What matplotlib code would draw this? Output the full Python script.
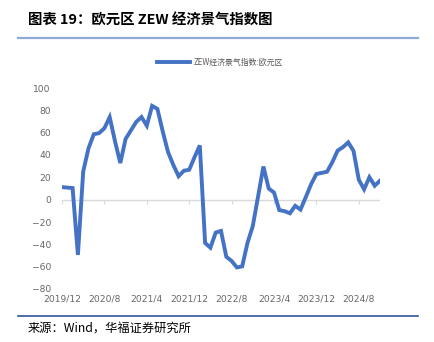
import matplotlib
matplotlib.use("Agg")
import matplotlib.pyplot as plt
from matplotlib.lines import Line2D

plt.rcParams['font.family'] = ['Noto Sans CJK SC', 'DejaVu Sans']

title = "图表 19：欧元区 ZEW 经济景气指数图"
source = "来源：Wind，华福证券研究所"
series_name = "ZEW经济景气指数:欧元区"

# monthly values, 2019/12 .. 2024/12
zew = [11.2,
       10.8, 10.4, -49.5, 25.2, 46.0, 58.6, 59.6, 64.0, 73.9, 52.3, 32.8, 54.4,
       62.0, 69.6, 74.0, 66.3, 84.0, 81.3, 61.2, 42.7, 31.1, 21.0, 25.9, 26.8,
       38.0, 48.6, -38.7, -43.0, -29.5, -28.0, -51.1, -54.9, -60.7, -59.7, -38.7, -23.6,
       3.0, 29.7, 10.0, 6.4, -9.4, -10.3, -12.2, -5.5, -8.9, 2.3, 13.8, 23.0,
       24.0, 25.0, 33.5, 43.9, 47.0, 51.3, 43.7, 17.9, 9.3, 20.1, 12.5, 17.0]
tick_idx = [0, 8, 16, 24, 32, 40, 48, 56]
tick_labels = ["2019/12", "2020/8", "2021/4", "2021/12", "2022/8", "2023/4", "2023/12", "2024/8"]
y_ticks = [100, 80, 60, 40, 20, 0, -20, -40, -60, -80]

W, H = 434, 342
fig = plt.figure(figsize=(W / 100, H / 100), dpi=100)

fig.text(28 / W, 1 - 21 / H, title, fontsize=10.4, fontweight='bold', va='center', ha='left', color='black')
fig.add_artist(Line2D([18 / W, 418 / W], [1 - 38 / H, 1 - 38 / H], color='#8EAADB', lw=1.6))
fig.add_artist(Line2D([18 / W, 418 / W], [1 - 316 / H, 1 - 316 / H], color='#2F5597', lw=1.2))
fig.text(28 / W, 1 - 328 / H, source, fontsize=8.8, va='center', ha='left', color='black')

ax = fig.add_axes([62 / W, 1 - 289 / H, (380 - 62) / W, (289 - 88) / H])
x = list(range(len(zew)))
ax.plot(x, zew, color='#4472C4', lw=2.8, solid_joinstyle='miter', label=series_name, zorder=3)
ax.axhline(0, color='#D9D9D9', lw=1, zorder=1)

ax.set_xlim(0, len(zew) - 1)
ax.set_ylim(-80, 100)
ax.set_yticks(y_ticks)
ax.set_xticks(tick_idx)
ax.set_xticklabels(tick_labels)
for s in ax.spines.values():
    s.set_visible(False)
ax.tick_params(axis='both', length=0, labelsize=6.6, labelcolor='#666666')
ax.tick_params(axis='y', pad=8)
ax.tick_params(axis='x', pad=4)
for t in ax.get_xticklabels() + ax.get_yticklabels():
    t.set_family('DejaVu Sans')

# small ticks hanging from the zero line
zero_pos = (0 - (-80)) / (100 - (-80))
sec = ax.secondary_xaxis(zero_pos)
sec.set_xticks(tick_idx)
sec.set_xticklabels([])
sec.spines['bottom'].set_visible(False)
sec.tick_params(direction='out', length=3, color='#D9D9D9', width=0.8)

leg = fig.legend(loc='center', bbox_to_anchor=(220 / W, 1 - 62 / H), frameon=False,
                 fontsize=5.7, handlelength=4.2, handletextpad=0.4)
for t in leg.get_texts():
    t.set_color('#595959')

fig.savefig("out.png", dpi=100)
